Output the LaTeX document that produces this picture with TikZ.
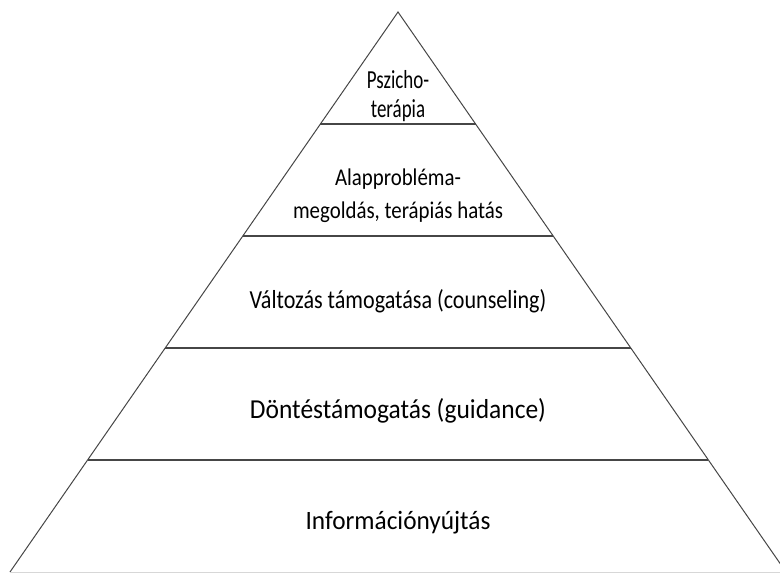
\documentclass[tikz,border=0pt]{standalone}
\usepackage{fontspec}
\setmainfont{Carlito}
\newfontfamily\narrowA[FakeStretch=0.73]{Carlito}
\newfontfamily\narrowB[FakeStretch=0.87]{Carlito}
\newfontfamily\narrowC[FakeStretch=0.85]{Carlito}
\newfontfamily\narrowD[FakeStretch=0.93]{Carlito}
\newfontfamily\narrowE[FakeStretch=0.955]{Carlito}
\usetikzlibrary{calc}
\definecolor{pyrLine}{RGB}{70,70,70}
\definecolor{pyrBase}{RGB}{215,215,215}

\begin{document}
\begin{tikzpicture}[x=1pt,y=-1pt,
  lvl/.style={align=center,inner sep=0pt,text=black}]
\useasboundingbox (0,0) rectangle (780,573);
\clip (0,0) rectangle (780,573);
% outline of the pyramid
\coordinate (apex) at (398,12);
\coordinate (bl) at (10,572);
\coordinate (br) at (786,572);
\foreach \t in {0.2,0.4,0.6,0.8}
  \draw[pyrLine,line width=1.3pt] ($(apex)!\t!(bl)$)--($(apex)!\t!(br)$);
\draw[pyrLine,line width=1pt] (bl)--(apex)--(br);
\draw[pyrBase,line width=1pt] (bl)--(br);
% levels, top to bottom
\node[lvl,font=\narrowA\fontsize{26}{29.5}\selectfont] (psych) at (398,96) {Pszicho-\\terápia};
\node[lvl,font=\narrowB\fontsize{24}{33}\selectfont] (alap) at (398,196) {Alapprobléma-\\megoldás, terápiás hatás};
\node[lvl,font=\narrowC\fontsize{26}{30}\selectfont] (valt) at (398,301) {Változás támogatása (counseling)};
\node[lvl,font=\narrowD\fontsize{27.4}{30}\selectfont] (dont) at (398,411) {Döntéstámogatás (guidance)};
\node[lvl,font=\narrowE\fontsize{26.5}{30}\selectfont] (info) at (398,523) {Információnyújtás};
\end{tikzpicture}
\end{document}
